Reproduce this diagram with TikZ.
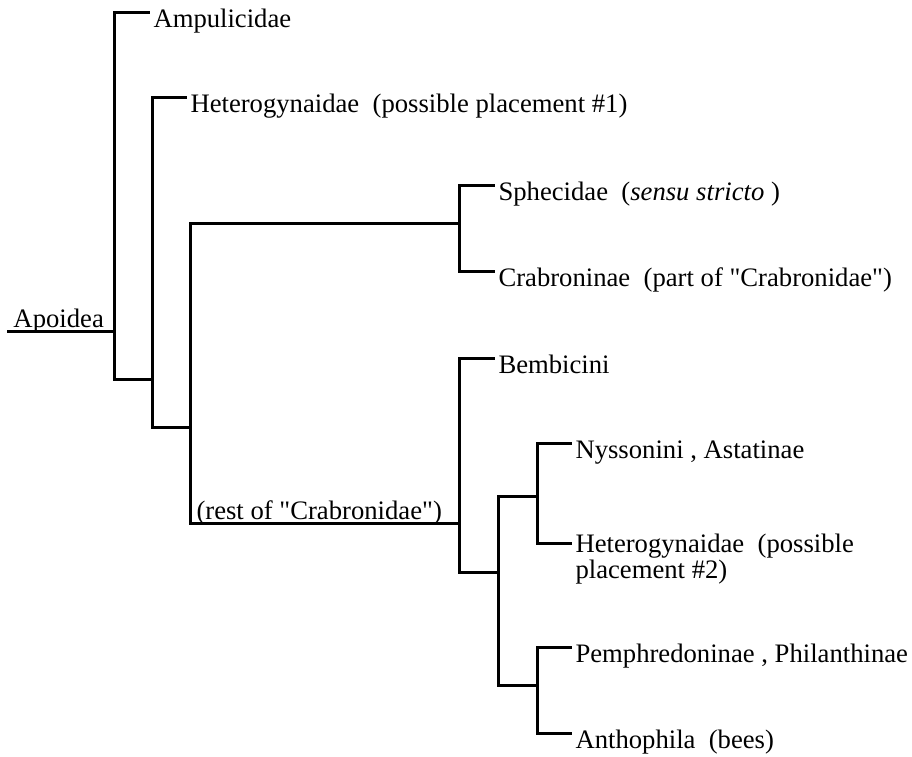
\documentclass[tikz,border=0pt]{standalone}
\usepackage{fontspec}
\setmainfont{Liberation Serif}
\usetikzlibrary{positioning}

\begin{document}
\begin{tikzpicture}[
	x=0.75pt, y=-0.75pt,
	line width=2.25pt,
	font=\fontsize{20pt}{19.5pt}\selectfont,
	branch/.style={draw=black},
	taxon/.style={anchor=base west, inner sep=0pt, xshift=1.5pt, yshift=-11.25pt},
	cladename/.style={anchor=base west, inner sep=0pt, xshift=3.75pt, yshift=3pt}
	]
    \useasboundingbox (0,0) rectangle (912,756);

    % splits
    \coordinate (root) at (7,331);
    \coordinate (n1) at (114,331);
    \coordinate (n2) at (152,379);
    \coordinate (n3) at (190,427);
    \coordinate (n4) at (459,223);
    \coordinate (n5) at (459,523);
    \coordinate (n6) at (498,572);
    \coordinate (n7) at (537,496);
    \coordinate (n8) at (537,685);

    % tips
    \coordinate (amp) at (150,12.5);
    \coordinate (het1) at (187,98);
    \coordinate (sph) at (495,185);
    \coordinate (crab) at (495,271);
    \coordinate (bem) at (495,358);
    \coordinate (nys) at (572,443);
    \coordinate (het2) at (572,543);
    \coordinate (pem) at (572,647);
    \coordinate (ant) at (572,733);

    % branches
    \draw[branch] (root) -- (n1);
    \draw[branch] (n1) |- (amp);
    \draw[branch] (n1) |- (n2);
    \draw[branch] (n2) |- (het1);
    \draw[branch] (n2) |- (n3);
    \draw[branch] (n3) |- (n4);
    \draw[branch] (n3) |- (n5);
    \draw[branch] (n4) |- (sph);
    \draw[branch] (n4) |- (crab);
    \draw[branch] (n5) |- (bem);
    \draw[branch] (n5) |- (n6);
    \draw[branch] (n6) |- (n7);
    \draw[branch] (n6) |- (n8);
    \draw[branch] (n7) |- (nys);
    \draw[branch] (n7) |- (het2);
    \draw[branch] (n8) |- (pem);
    \draw[branch] (n8) |- (ant);

    % names
    \node[cladename] (apoL) at (root) {Apoidea};
    \node[cladename] (restL) at (n3 |- n5) {(rest of \textquotedbl Crabronidae\textquotedbl)};
    \node[taxon] (ampL) at (amp) {Ampulicidae};
    \node[taxon] (het1L) at (het1) {Heterogynaidae~~(possible placement \#1)};
    \node[taxon] (sphL) at (sph) {Sphecidae~~(\textit{sensu stricto}~)};
    \node[taxon] (crabL) at (crab) {Crabroninae~~(part of \textquotedbl Crabronidae\textquotedbl)};
    \node[taxon] (bemL) at (bem) {Bembicini};
    \node[taxon] (nysL) at (nys) {Nyssonini~, Astatinae};
    \node[taxon, yshift=-15pt, align=left] (het2L) at (het2) {Heterogynaidae~~(possible\\placement \#2)};
    \node[taxon] (pemL) at (pem) {Pemphredoninae~, Philanthinae};
    \node[taxon] (antL) at (ant) {Anthophila~~(bees)};
\end{tikzpicture}
\end{document}
